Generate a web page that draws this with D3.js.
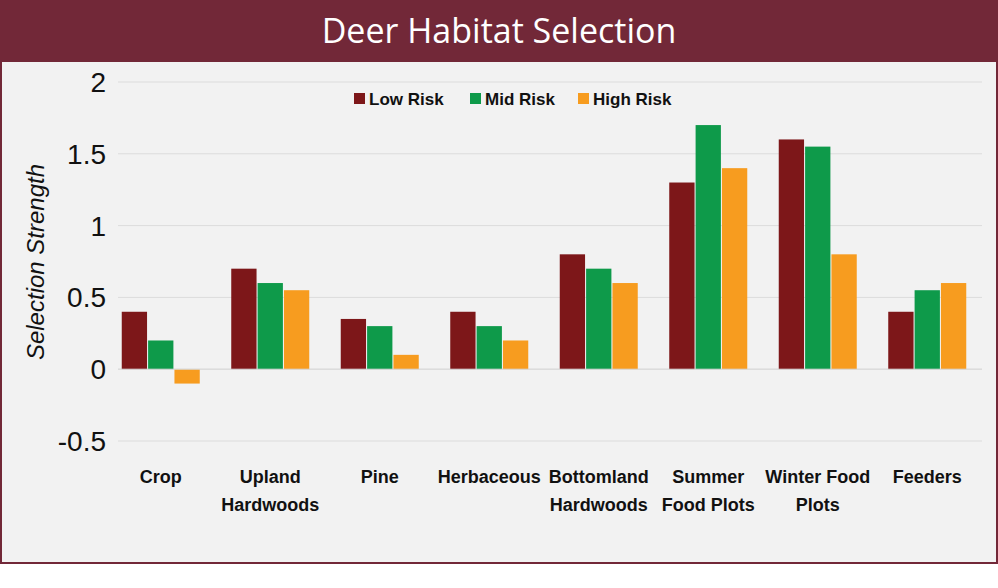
<!DOCTYPE html><html><head><meta charset="utf-8">
<script src="https://cdn.jsdelivr.net/npm/d3@7"></script>
<style>body{margin:0;background:#fff}</style></head><body>
<svg id="c" width="998" height="588"></svg>
<script>
const categories=[["Crop"],["Upland","Hardwoods"],["Pine"],["Herbaceous"],["Bottomland","Hardwoods"],["Summer","Food Plots"],["Winter Food","Plots"],["Feeders"]];
const seriesNames=["Low Risk","Mid Risk","High Risk"];
const lowRisk=[0.4,0.7,0.35,0.4,0.8,1.3,1.6,0.4];
const midRisk=[0.2,0.6,0.3,0.3,0.7,1.7,1.55,0.55];
const highRisk=[-0.1,0.55,0.1,0.2,0.6,1.4,0.8,0.6];
const yTicks=[-0.5,0,0.5,1,1.5,2];
const colors=["#7d1719","#0e9a4a","#f79c1f"];
const series=[lowRisk,midRisk,highRisk];

const svg=d3.select("#c");
svg.append("rect").attr("x",1).attr("y",1).attr("width",996).attr("height",562).attr("fill","#f2f2f2").attr("stroke","#722838").attr("stroke-width",2);
svg.append("rect").attr("x",0).attr("y",0).attr("width",998).attr("height",62).attr("fill","#722838");
svg.append("text").attr("x",499).attr("y",43).attr("text-anchor","middle").attr("fill","#fff").attr("font-family","Open Sans").attr("font-size",34).text("Deer Habitat Selection");

const y=d3.scaleLinear().domain([-0.5,2]).range([441,82]);
const x=d3.scaleBand().domain(d3.range(8)).range([106,982]);
const xs=d3.scaleBand().domain(d3.range(3)).range([0,78]).paddingInner(0.04);
yTicks.forEach(t=>{
  svg.append("line").attr("x1",118).attr("x2",982).attr("y1",y(t)).attr("y2",y(t)).attr("stroke","#dcdcdc").attr("stroke-width",1);
  svg.append("text").attr("x",106).attr("y",y(t)+10).attr("text-anchor","end").attr("font-family","Liberation Sans").attr("font-size",28).attr("fill","#111").text(t);
});
series.forEach((s,si)=>{
  svg.selectAll(null).data(s).enter().append("rect")
    .attr("x",(d,i)=>x(i)+x.bandwidth()/2-39+xs(si)).attr("width",xs.bandwidth())
    .attr("y",d=>y(Math.max(0,d))).attr("height",d=>Math.abs(y(d)-y(0))).attr("fill",colors[si]);
});
svg.append("line").attr("x1",118).attr("x2",982).attr("y1",y(0)).attr("y2",y(0)).attr("stroke","#d9d9d9");
categories.forEach((c,i)=>{
  c.forEach((l,j)=>svg.append("text").attr("x",x(i)+x.bandwidth()/2).attr("y",483+j*28).attr("text-anchor","middle")
    .attr("font-family","Liberation Sans Narrow, Liberation Sans").attr("font-weight","bold").attr("font-size",18).attr("fill","#111").text(l));
});
svg.append("text").attr("transform","translate(44,262) rotate(-90)").attr("text-anchor","middle").attr("font-family","Liberation Sans").attr("font-style","italic").attr("font-size",24).attr("fill","#111").text("Selection Strength");
const lx=[354,470,578];
seriesNames.forEach((n,i)=>{
  svg.append("rect").attr("x",lx[i]).attr("y",93).attr("width",11).attr("height",11).attr("fill",colors[i]);
  svg.append("text").attr("x",lx[i]+15).attr("y",105).attr("font-family","Liberation Sans Narrow, Liberation Sans").attr("font-weight","bold").attr("font-size",17).attr("fill","#111").text(n);
});
</script></body></html>
